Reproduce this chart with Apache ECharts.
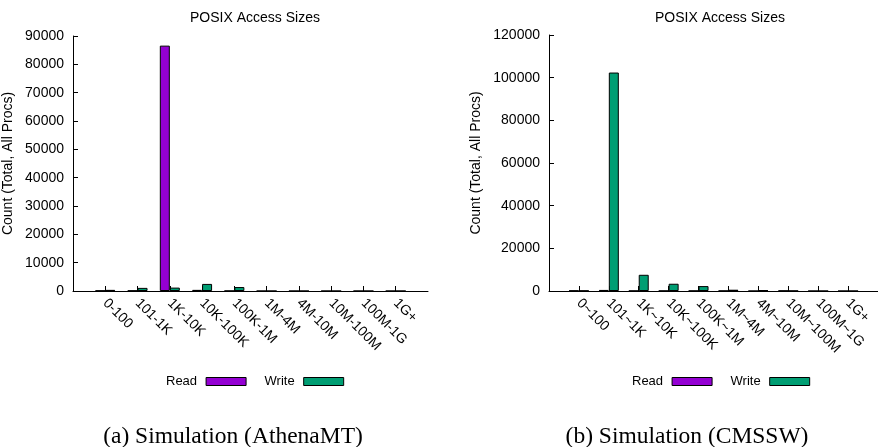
<!DOCTYPE html>
<html>
<head>
<meta charset="utf-8">
<style>
  html, body { margin: 0; padding: 0; background: #fff; }
  #chart { width: 878px; height: 447px; }
</style>
<script src="https://cdn.jsdelivr.net/npm/echarts@6/dist/echarts.min.js"></script>
</head>
<body>
<div id="chart"></div>
<script>
// Access-size buckets shared by both panels
const sizeBuckets = ['0-100', '101-1K', '1K-10K', '10K-100K', '100K-1M', '1M-4M', '4M-10M', '10M-100M', '100M-1G', '1G+'];
const sizeBucketsB = ['0~100', '101~1K', '1K~10K', '10K~100K', '100K~1M', '1M~4M', '4M~10M', '10M~100M', '100M~1G', '1G+'];

// (a) AthenaMT
const athenaRead  = [150, 150, 86600, 400, 50, 0, 0, 0, 0, 0];
const athenaWrite = [400, 1100, 1200, 2500, 1400, 0, 0, 0, 0, 0];

// (b) CMSSW
const cmsswRead  = [200, 500, 100, 100, 100, 100, 0, 150, 0, 0];
const cmsswWrite = [150, 102400, 7600, 3400, 2300, 600, 400, 100, 0, 0];

const panelTitle = 'POSIX Access Sizes';
const yAxisName = 'Count (Total, All Procs)';
const captionA = '(a) Simulation (AthenaMT)';
const captionB = '(b) Simulation (CMSSW)';

const READ_COLOR = '#9400d3';
const WRITE_COLOR = '#009e73';
const SANS = '"Liberation Sans", Arial, Helvetica, sans-serif';
const SERIF = '"Liberation Serif", "Times New Roman", serif';

// bucket i sits at slot i + 1 on an 11-slot axis (one empty slot each side)
const slots = sizeBuckets.map((_, i) => i + 1);

function xAxisFor(gridIndex, labels) {
  return {
    type: 'value', gridIndex, min: 0, max: 11, interval: 1,
    axisLine: { show: true, onZero: false, lineStyle: { color: '#000', width: 1 } },
    axisTick: { show: true, inside: true, length: 5, customValues: slots, lineStyle: { color: '#000' } },
    axisLabel: {
      customValues: slots, rotate: -45, margin: 10,
      fontFamily: SANS, fontSize: 14, color: '#000',
      formatter: v => labels[Math.round(v) - 1] || ''
    },
    splitLine: { show: false }
  };
}

function yAxisFor(gridIndex, max, interval, nameGap) {
  return {
    type: 'value', gridIndex, min: 0, max, interval,
    name: yAxisName, nameLocation: 'middle', nameGap, nameRotate: 90,
    nameTextStyle: { fontFamily: SANS, fontSize: 14, color: '#000' },
    axisLine: { show: true, onZero: false, lineStyle: { color: '#000', width: 1 } },
    axisTick: { show: true, inside: true, length: 5, lineStyle: { color: '#000' } },
    axisLabel: { fontFamily: SANS, fontSize: 14, color: '#000', margin: 9, formatter: v => String(v) },
    splitLine: { show: false }
  };
}

function barSeries(name, color, values, axisIndex) {
  return {
    name, type: 'bar', xAxisIndex: axisIndex, yAxisIndex: axisIndex,
    barWidth: 10, barGap: 0,
    itemStyle: { color, borderColor: '#000', borderWidth: 1 },
    data: values.map((v, i) => [slots[i], v])
  };
}

function legendAt(left, top) {
  return {
    left, top, orient: 'horizontal', align: 'right',
    itemWidth: 40, itemHeight: 8, itemGap: 18, icon: 'rect',
    selectedMode: false,
    itemStyle: { borderColor: '#000', borderWidth: 1 },
    textStyle: { fontFamily: SANS, fontSize: 13, color: '#000', padding: [0, 4, 0, 0] },
    data: ['Read', 'Write']
  };
}

const chart = echarts.init(document.getElementById('chart'), null, { renderer: 'canvas' });
chart.setOption({
  animation: false,
  backgroundColor: '#fff',
  title: [
    { text: panelTitle, left: 250, top: 6, textAlign: 'center',
      textStyle: { fontFamily: SANS, fontSize: 14, fontWeight: 'normal', color: '#000' } },
    { text: panelTitle, left: 715, top: 6, textAlign: 'center',
      textStyle: { fontFamily: SANS, fontSize: 14, fontWeight: 'normal', color: '#000' } },
    { text: captionA, left: 228, top: 420, textAlign: 'center',
      textStyle: { fontFamily: SERIF, fontSize: 23.5, fontWeight: 'normal', color: '#000' } },
    { text: captionB, left: 682, top: 420, textAlign: 'center',
      textStyle: { fontFamily: SERIF, fontSize: 23.5, fontWeight: 'normal', color: '#000' } }
  ],
  legend: [legendAt(161, 370), legendAt(627, 370)],
  grid: [
    { left: 72, top: 36, width: 356, height: 255, containLabel: false },
    { left: 549, top: 35, width: 334, height: 256, containLabel: false }
  ],
  xAxis: [xAxisFor(0, sizeBuckets), xAxisFor(1, sizeBucketsB)],
  yAxis: [yAxisFor(0, 90000, 10000, 58), yAxisFor(1, 120000, 20000, 66)],
  series: [
    barSeries('Read', READ_COLOR, athenaRead, 0),
    barSeries('Write', WRITE_COLOR, athenaWrite, 0),
    barSeries('Read', READ_COLOR, cmsswRead, 1),
    barSeries('Write', WRITE_COLOR, cmsswWrite, 1)
  ]
});
</script>
</body>
</html>
